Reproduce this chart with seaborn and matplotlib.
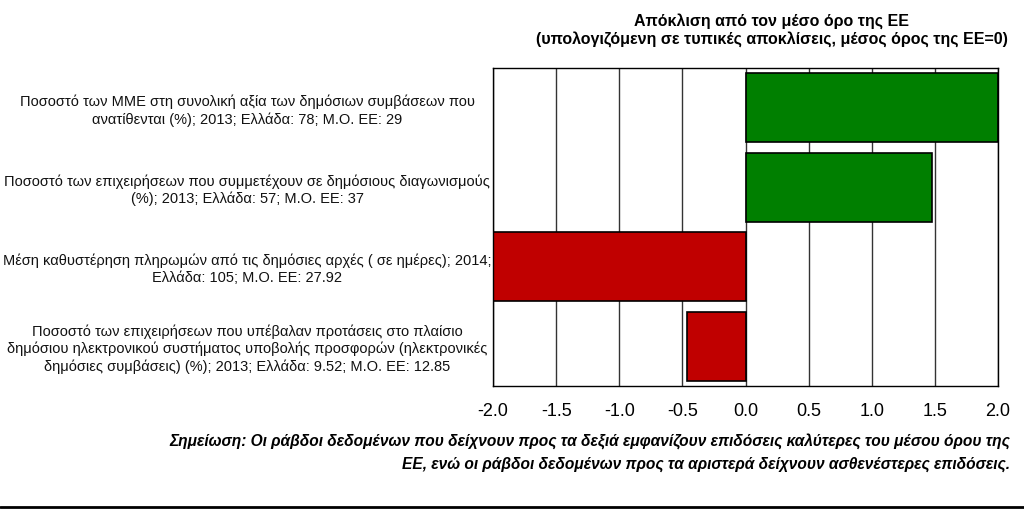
import matplotlib
matplotlib.use("Agg")
import matplotlib.pyplot as plt
import seaborn as sns

# indicator labels (top to bottom)
labels = [
    "Ποσοστό των ΜΜΕ στη συνολική αξία των δημόσιων συμβάσεων που\nανατίθενται (%); 2013; Ελλάδα: 78; Μ.Ο. ΕΕ: 29",
    "Ποσοστό των επιχειρήσεων που συμμετέχουν σε δημόσιους διαγωνισμούς\n(%); 2013; Ελλάδα: 57; Μ.Ο. ΕΕ: 37",
    "Μέση καθυστέρηση πληρωμών από τις δημόσιες αρχές ( σε ημέρες); 2014;\nΕλλάδα: 105; Μ.Ο. ΕΕ: 27.92",
    "Ποσοστό των επιχειρήσεων που υπέβαλαν προτάσεις στο πλαίσιο\nδημόσιου ηλεκτρονικού συστήματος υποβολής προσφορών (ηλεκτρονικές\nδημόσιες συμβάσεις) (%); 2013; Ελλάδα: 9.52; Μ.Ο. ΕΕ: 12.85",
]
# deviation from EU mean in standard deviations (capped at +/-2)
values = [2.0, 1.48, -2.0, -0.46]
bar_colors = ["#007F00", "#007F00", "#C00000", "#C00000"]
ticks = [-2.0, -1.5, -1.0, -0.5, 0.0, 0.5, 1.0, 1.5, 2.0]

title = "Απόκλιση από τον μέσο όρο της ΕΕ\n(υπολογιζόμενη σε τυπικές αποκλίσεις, μέσος όρος της ΕΕ=0)"
note = ("Σημείωση: Οι ράβδοι δεδομένων που δείχνουν προς τα δεξιά εμφανίζουν επιδόσεις καλύτερες του μέσου όρου της\n"
        "ΕΕ, ενώ οι ράβδοι δεδομένων προς τα αριστερά δείχνουν ασθενέστερες επιδόσεις.")

sns.set_style("white")
plt.rcParams["font.family"] = ["Liberation Sans", "DejaVu Sans"]
plt.rcParams["text.color"] = "black"

fig = plt.figure(figsize=(10.24, 5.09), dpi=100)
ax = fig.add_axes([493 / 1024, 1 - 386 / 509, 505 / 1024, 318 / 509])

sns.barplot(x=values, y=labels, hue=labels, palette=bar_colors, legend=False,
            orient="h", width=0.87, saturation=1, edgecolor="black",
            linewidth=1.2, ax=ax)

ax.set_xlim(-2.0, 2.0)
ax.set_xticks(ticks)
ax.set_xticklabels([f"{t:.1f}" for t in ticks], fontsize=13, color="black")
ax.grid(axis="x", color="#333333", linewidth=1)
ax.set_axisbelow(True)
ax.set_xlabel("")
ax.set_ylabel("")
for s in ax.spines.values():
    s.set_visible(True)
    s.set_color("black")
    s.set_linewidth(1)

ax.tick_params(axis="y", length=0, pad=177)
ax.tick_params(axis="x", length=0, pad=12)
for lab in ax.get_yticklabels():
    lab.set_ha("center")
    lab.set_multialignment("center")
    lab.set_fontsize(10.5)
    lab.set_color("#111111")
    lab.set_linespacing(1.25)

fig.text(772 / 1024, 1 - 31 / 509, title, ha="center", va="center",
         fontsize=11.5, fontweight="bold", linespacing=1.25)
fig.text(1010 / 1024, 1 - 453 / 509, note, ha="right", va="center",
         fontsize=11.2, fontweight="bold", style="italic", linespacing=1.5)
fig.add_artist(plt.Line2D([0, 1], [1 - 507 / 509, 1 - 507 / 509],
                          transform=fig.transFigure, color="black", linewidth=2))

fig.savefig("out.png", dpi=100)
